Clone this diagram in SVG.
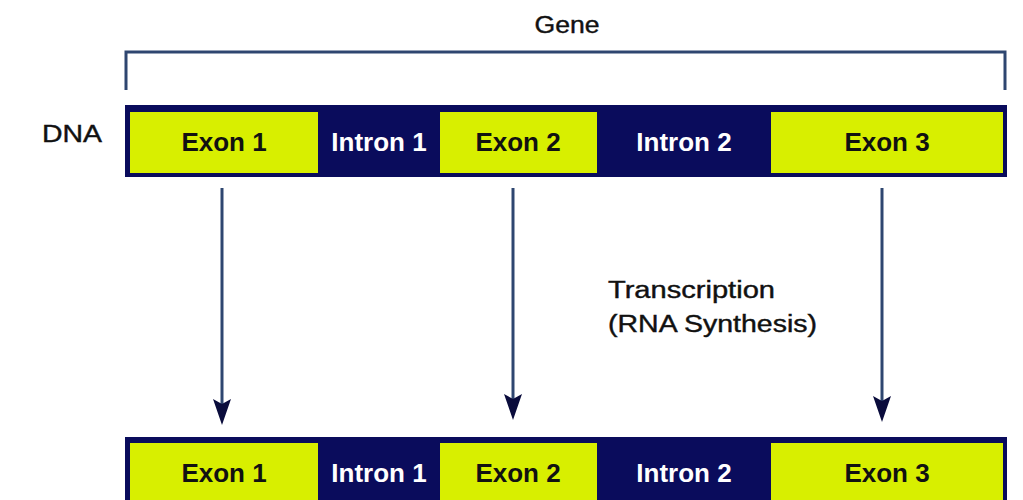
<svg xmlns="http://www.w3.org/2000/svg" width="1023" height="500" viewBox="0 0 1023 500">
<style>
.bar{fill:#0a0c5c}
.exon{fill:#d8ef00}
.lbl{font-family:"Liberation Sans",Arial,sans-serif;font-weight:bold;font-size:26px;text-anchor:middle}
.ex{fill:#111}
.in{fill:#fff}
.txt{font-family:"Liberation Sans",Arial,sans-serif;font-size:23px;fill:#111;stroke:#111;stroke-width:0.4}
.conn{stroke:#2e4670;stroke-width:3;fill:none}
</style>
<defs>
<marker id="ah" viewBox="0 0 26 20" refX="14" refY="10" markerWidth="26" markerHeight="20" markerUnits="userSpaceOnUse" orient="auto">
<path d="M26 10 L0 1 L5 10 L0 19 Z" fill="#0a0c3c"/>
</marker>
</defs>
<rect width="1023" height="500" fill="#fff"/>
<g id="gene-label">
<path d="M126 90 V52 H1005 V90" fill="none" stroke="#2e4670" stroke-width="3"/>
<text class="txt" x="567" y="33" text-anchor="middle" textLength="65" lengthAdjust="spacingAndGlyphs">Gene</text>
</g>
<g id="dna-label">
<text class="txt" x="42" y="142" textLength="60" lengthAdjust="spacingAndGlyphs">DNA</text>
</g>
<g id="dna">
<rect class="bar" x="125" y="105" width="882" height="72"/>
<rect class="exon" x="130" y="112" width="188" height="61"/>
<rect class="exon" x="440" y="112" width="157" height="61"/>
<rect class="exon" x="771" y="112" width="232" height="61"/>
<text class="lbl ex" x="224" y="151">Exon 1</text>
<text class="lbl in" x="379" y="151">Intron 1</text>
<text class="lbl ex" x="518" y="151">Exon 2</text>
<text class="lbl in" x="684" y="151">Intron 2</text>
<text class="lbl ex" x="887" y="151">Exon 3</text>
</g>
<g id="transcription-label">
<text class="txt" x="608" y="298" textLength="167" lengthAdjust="spacingAndGlyphs">Transcription</text>
<text class="txt" x="608" y="332" textLength="209" lengthAdjust="spacingAndGlyphs">(RNA Synthesis)</text>
</g>
<g id="rna">
<rect class="bar" x="125" y="437" width="882" height="72"/>
<rect class="exon" x="130" y="443" width="188" height="61"/>
<rect class="exon" x="440" y="443" width="157" height="61"/>
<rect class="exon" x="771" y="443" width="232" height="61"/>
<text class="lbl ex" x="224" y="482">Exon 1</text>
<text class="lbl in" x="379" y="482">Intron 1</text>
<text class="lbl ex" x="518" y="482">Exon 2</text>
<text class="lbl in" x="684" y="482">Intron 2</text>
<text class="lbl ex" x="887" y="482">Exon 3</text>
</g>
<g id="connectors">
<line class="conn" x1="222" y1="188" x2="222" y2="413" marker-end="url(#ah)"/>
<line class="conn" x1="513" y1="188" x2="513" y2="408" marker-end="url(#ah)" stroke="#456a90"/>
<line class="conn" x1="882" y1="188" x2="882" y2="410" marker-end="url(#ah)"/>
</g>
</svg>
